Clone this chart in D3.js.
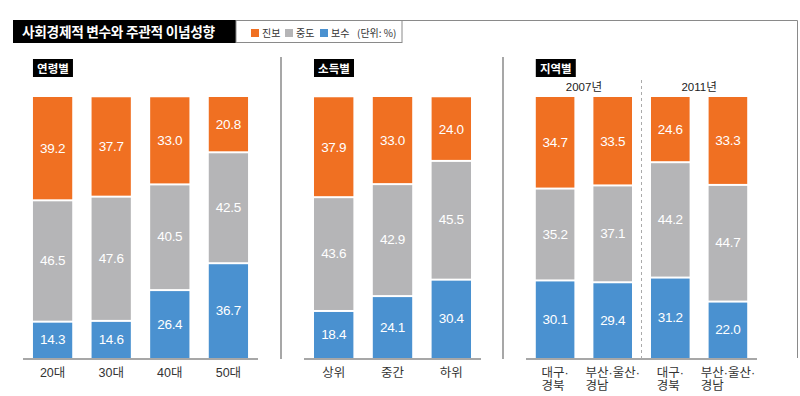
<!DOCTYPE html>
<html>
<head>
<meta charset="utf-8">
<script src="https://cdn.jsdelivr.net/npm/d3@7"></script>
<style>
  body { margin: 0; background: #fff; }
  svg { display: block; font-family: "Liberation Sans", "Noto Sans CJK KR", sans-serif; }
</style>
</head>
<body>
<div id="chart"></div>
<script>
// values (단위: %)
const ageCats = ['20대', '30대', '40대', '50대'];
const ageProg = [39.2, 37.7, 33.0, 20.8];
const ageMid = [46.5, 47.6, 40.5, 42.5];
const ageCons = [14.3, 14.6, 26.4, 36.7];

const incomeCats = ['상위', '중간', '하위'];
const incomeProg = [37.9, 33.0, 24.0];
const incomeMid = [43.6, 42.9, 45.5];
const incomeCons = [18.4, 24.1, 30.4];

const regionCats = [['대구·', '경북'], ['부산·울산·', '경남'], ['대구·', '경북'], ['부산·울산·', '경남']];
const regionYears = ['2007년', '2007년', '2011년', '2011년'];
const regionProg = [34.7, 33.5, 24.6, 33.3];
const regionMid = [35.2, 37.1, 44.2, 44.7];
const regionCons = [30.1, 29.4, 31.2, 22.0];

const seriesNames = ['진보', '중도', '보수'];
const colors = {'진보': '#f07022', '중도': '#b5b5b7', '보수': '#4a91d0'};

let width = 800,
    height = 396,
    baseY = 358,
    topY = 97,
    gap = 2;

let svg = d3.select('#chart')
  .append('svg')
  .attr('width', width)
  .attr('height', height);

let y = d3.scaleLinear()
  .domain([0, 100])
  .range([baseY, topY]);

// #region header

svg.append('rect')
  .attr('x', 13).attr('y', 20)
  .attr('width', 223).attr('height', 23)
  .attr('fill', '#000');

svg.append('text')
  .attr('x', 22).attr('y', 36.5)
  .attr('fill', '#fff')
  .style('font-family', '"Noto Sans CJK KR", sans-serif')
  .style('font-weight', 'bold')
  .style('font-size', '13.7px')
  .style('letter-spacing', '-0.3px')
  .text('사회경제적 변수와 주관적 이념성향');

svg.append('rect')
  .attr('x', 236).attr('y', 20.5)
  .attr('width', 166).attr('height', 22)
  .attr('fill', 'none')
  .attr('stroke', '#8a8a8a');

svg.append('path')
  .attr('d', 'M402,20.5H797.5V358')
  .attr('fill', 'none')
  .attr('stroke', '#8a8a8a');

let legendX = [251, 285, 320];
let legend = svg.append('g')
  .selectAll('g')
  .data(seriesNames)
  .enter()
  .append('g')
  .attr('transform', (d, i) => `translate(${legendX[i]}, 29)`);

legend.append('rect')
  .attr('width', 8).attr('height', 8)
  .attr('fill', d => colors[d]);

legend.append('text')
  .attr('x', 11).attr('y', 8)
  .attr('fill', '#333')
  .style('font-size', '10px')
  .style('font-family', '"Noto Sans CJK KR", sans-serif')
  .text(d => d);

svg.append('text')
  .attr('x', 357).attr('y', 37)
  .attr('fill', '#333')
  .style('font-size', '10px')
  .style('font-family', '"Noto Sans CJK KR", sans-serif')
  .text('(단위: %)');

// #endregion

// #region panels

function drawPanel(opts) {
  let x = d3.scaleBand()
    .domain(d3.range(opts.prog.length))
    .range(opts.range)
    .paddingInner(0.33)
    .paddingOuter(0.17);

  let g = svg.append('g');

  // panel title tag
  g.append('rect')
    .attr('x', x(0)).attr('y', 59)
    .attr('width', 40).attr('height', 18)
    .attr('fill', '#000');
  g.append('text')
    .attr('x', x(0) + 20).attr('y', 72.5)
    .attr('text-anchor', 'middle')
    .attr('fill', '#fff')
    .style('font-family', '"Noto Sans CJK KR", sans-serif')
    .style('font-weight', 'bold')
    .style('font-size', '11.5px')
    .text(opts.title);

  let stacks = opts.prog.map((p, i) => {
    let c = opts.cons[i], m = opts.mid[i];
    return [
      {key: '보수', v: c, y0: 0, y1: c, top: false},
      {key: '중도', v: m, y0: c, y1: c + m, top: false},
      {key: '진보', v: p, y0: c + m, y1: c + m + p, top: true}
    ].map(s => Object.assign(s, {i: i}));
  });

  let seg = g.selectAll('g.bar')
    .data(stacks)
    .enter()
    .append('g')
    .attr('class', 'bar')
    .selectAll('g')
    .data(d => d)
    .enter()
    .append('g');

  seg.append('rect')
    .attr('x', d => x(d.i))
    .attr('width', x.bandwidth())
    .attr('y', d => y(d.y1) + (d.top ? 0 : gap))
    .attr('height', d => y(d.y0) - y(d.y1) - (d.top ? 0 : gap))
    .attr('fill', d => colors[d.key]);

  seg.append('text')
    .attr('x', d => x(d.i) + x.bandwidth() / 2)
    .attr('y', d => (y(d.y0) + y(d.y1)) / 2 + 5)
    .attr('text-anchor', 'middle')
    .attr('fill', '#fff')
    .style('font-size', '13.5px')
    .style('letter-spacing', '-0.3px')
    .text(d => d.v.toFixed(1));

  // baseline
  g.append('line')
    .attr('x1', opts.range[0]).attr('x2', opts.range[1])
    .attr('y1', baseY + 1).attr('y2', baseY + 1)
    .attr('stroke', '#8a8a8a')
    .attr('stroke-width', 1.5);

  // category labels
  opts.cats.forEach((c, i) => {
    let cx = x(i) + x.bandwidth() / 2;
    let lines = Array.isArray(c) ? c : [c];
    let t = g.append('text')
      .attr('y', 377)
      .attr('fill', '#333')
      .style('font-size', '12.5px')
      .style('font-family', '"Liberation Sans", "Noto Sans CJK KR", sans-serif');
    lines.forEach((l, k) => {
      t.append('tspan')
        .attr('dy', k ? 13 : 0)
        .text(l);
    });
    if (lines.length === 1) {
      t.attr('x', cx).attr('text-anchor', 'middle');
    } else {
      let w = t.select('tspan').node().getComputedTextLength();
      t.attr('x', cx - w / 2);
      t.selectAll('tspan').attr('x', cx - w / 2);
    }
  });

  return x;
}

drawPanel({
  title: '연령별', range: [23, 258],
  cats: ageCats, prog: ageProg, mid: ageMid, cons: ageCons
});

drawPanel({
  title: '소득별', range: [304, 481],
  cats: incomeCats, prog: incomeProg, mid: incomeMid, cons: incomeCons
});

let rx = drawPanel({
  title: '지역별', range: [526, 757],
  cats: regionCats, prog: regionProg, mid: regionMid, cons: regionCons
});

// year headers over the region pairs
let years = d3.groups(regionYears.map((yr, i) => ({yr: yr, i: i})), d => d.yr);
years.forEach(([yr, items]) => {
  let cx = d3.mean(items, d => rx(d.i) + rx.bandwidth() / 2);
  svg.append('text')
    .attr('x', cx).attr('y', 91)
    .attr('text-anchor', 'middle')
    .attr('fill', '#222')
    .style('font-size', '11.5px')
    .text(yr);
});

let dashX = (rx(1) + rx.bandwidth() + rx(2)) / 2;
svg.append('line')
  .attr('x1', dashX).attr('x2', dashX)
  .attr('y1', 80).attr('y2', baseY + 1)
  .attr('stroke', '#aaa')
  .attr('stroke-dasharray', '3,3');

// separators between panels
[281, 503].forEach(sx => {
  svg.append('line')
    .attr('x1', sx).attr('x2', sx)
    .attr('y1', 57).attr('y2', baseY + 1)
    .attr('stroke', '#8a8a8a')
    .attr('stroke-width', 1.5);
});

// #endregion
</script>
</body>
</html>
